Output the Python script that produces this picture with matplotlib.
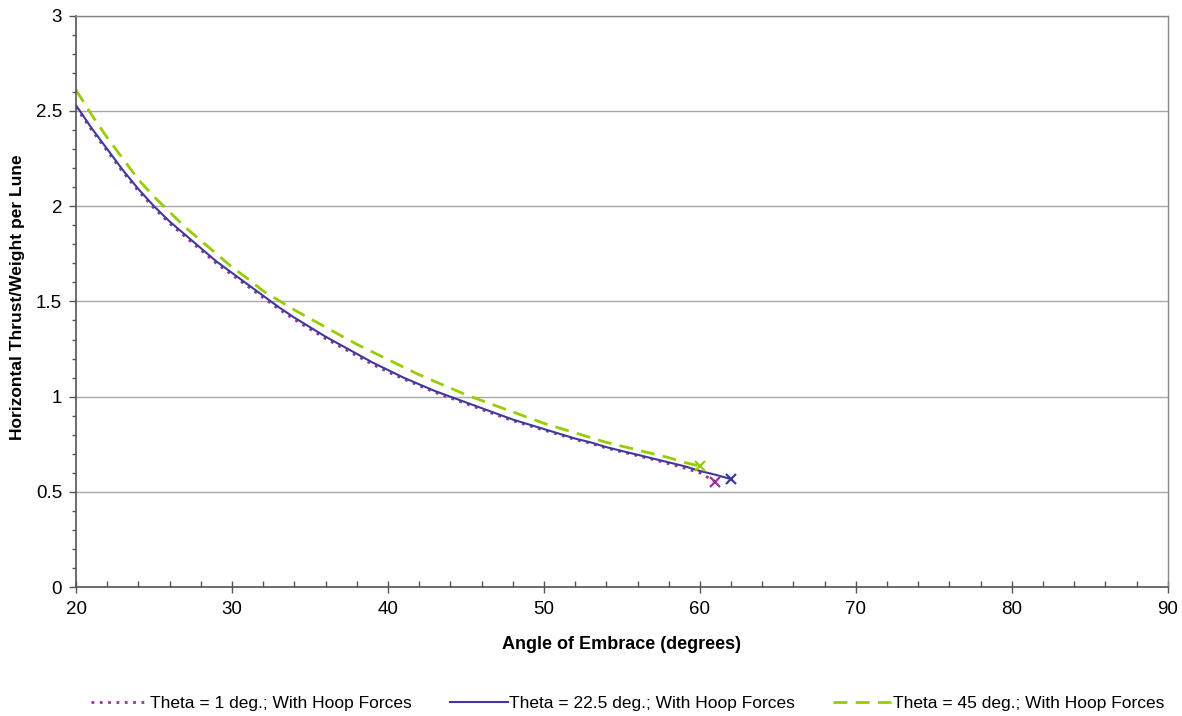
import matplotlib
matplotlib.use("Agg")
import matplotlib.pyplot as plt
from matplotlib.ticker import MultipleLocator

plt.rcParams['font.family'] = ['Liberation Sans', 'DejaVu Sans']

# angle of embrace (degrees)
angle_1 = list(range(20, 62))
angle_22 = list(range(20, 63))
angle_45 = list(range(20, 61))

# horizontal thrust / weight per lune
thrust_22 = [2.53, 2.41, 2.30, 2.19, 2.09, 2.00, 1.92, 1.85, 1.78, 1.71,
             1.65, 1.59, 1.53, 1.47, 1.415, 1.365, 1.315, 1.27, 1.225, 1.18,
             1.14, 1.10, 1.065, 1.03, 1.00, 0.97, 0.94, 0.91, 0.88, 0.855,
             0.83, 0.805, 0.78, 0.76, 0.735, 0.715, 0.695, 0.675, 0.655, 0.635,
             0.61, 0.59, 0.567]
thrust_1 = [2.52, 2.40, 2.29, 2.18, 2.08, 1.99, 1.91, 1.84, 1.77, 1.70,
            1.64, 1.58, 1.52, 1.46, 1.405, 1.355, 1.305, 1.26, 1.215, 1.17,
            1.13, 1.093, 1.058, 1.023, 0.993, 0.963, 0.933, 0.903, 0.874, 0.849,
            0.824, 0.8, 0.775, 0.755, 0.73, 0.71, 0.69, 0.67, 0.648, 0.625,
            0.6, 0.553]
thrust_45 = [2.61, 2.48, 2.36, 2.25, 2.14, 2.05, 1.97, 1.89, 1.82, 1.75,
             1.68, 1.62, 1.555, 1.505, 1.455, 1.41, 1.365, 1.32, 1.275, 1.235,
             1.195, 1.155, 1.115, 1.08, 1.045, 1.01, 0.98, 0.95, 0.92, 0.89,
             0.86, 0.835, 0.81, 0.785, 0.76, 0.74, 0.72, 0.70, 0.68, 0.655,
             0.635]

labels = ["Theta = 1 deg.; With Hoop Forces",
          "Theta = 22.5 deg.; With Hoop Forces",
          "Theta = 45 deg.; With Hoop Forces"]

c_purple = "#993399"
c_blue = "#3d3a9a"
c_green = "#99cc00"

fig = plt.figure(figsize=(11.82, 7.16), dpi=100)
ax = fig.add_axes([0.0643, 0.180, 0.9237, 0.798])

ax.plot(angle_1, thrust_1, color=c_purple, lw=2, ls=(0, (1, 2)), label=labels[0])
ax.plot(angle_22, thrust_22, color=c_blue, lw=1.5, ls='-', label=labels[1])
ax.plot(angle_45, thrust_45, color=c_green, lw=2, ls=(0, (5, 3)), label=labels[2])

# end-point markers
ax.plot(angle_1[-1], thrust_1[-1], 'x', color=c_purple, ms=7, mew=1.6)
ax.plot(angle_22[-1], thrust_22[-1], 'x', color=c_blue, ms=7, mew=1.6)
ax.plot(angle_45[-1], thrust_45[-1], 'x', color=c_green, ms=7, mew=1.6)

ax.set_xlim(20, 90)
ax.set_ylim(0, 3)
ax.xaxis.set_major_locator(MultipleLocator(10))
ax.xaxis.set_minor_locator(MultipleLocator(2))
ax.yaxis.set_major_locator(MultipleLocator(0.5))
ax.yaxis.set_minor_locator(MultipleLocator(0.1))
ax.yaxis.set_major_formatter(plt.FuncFormatter(lambda v, p: f"{v:g}"))

ax.grid(axis='y', which='major', color='#a8a8a8', lw=1)
ax.set_axisbelow(True)

ax.tick_params(axis='x', which='major', direction='inout', length=8, width=1,
               color='#555555', labelsize=13.5, pad=6)
ax.tick_params(axis='x', which='minor', direction='in', length=4, width=1,
               color='#555555')
ax.tick_params(axis='y', which='major', direction='out', length=5, width=1,
               color='#555555', labelsize=13.5, pad=5)
ax.tick_params(axis='y', which='minor', direction='out', length=3, width=1,
               color='#555555')

for side in ['left', 'bottom']:
    ax.spines[side].set_color('#555555')
    ax.spines[side].set_linewidth(1.2)
for side in ['top', 'right']:
    ax.spines[side].set_color('#888888')
    ax.spines[side].set_linewidth(1)

ax.set_xlabel('Angle of Embrace (degrees)', fontsize=13, fontweight='bold', labelpad=13)
fig.text(18 / 1182, 1 - 297 / 716, 'Horizontal Thrust/Weight per Lune', fontsize=12.5,
         fontweight='bold', rotation=90, ha='center', va='center')

fig.legend(loc='center', bbox_to_anchor=(0.531, 0.018), ncol=3, frameon=False,
           fontsize=12.5, handlelength=3.3, handletextpad=0.1, columnspacing=2.2)

fig.savefig('out.png', dpi=100)
